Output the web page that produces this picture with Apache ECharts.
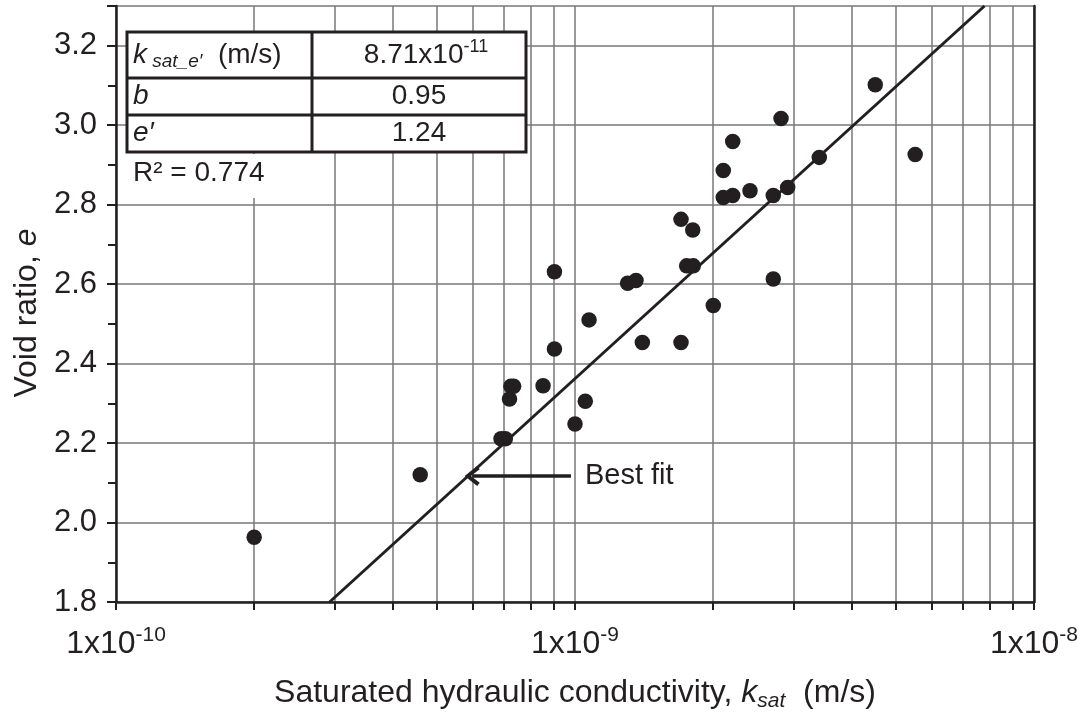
<!DOCTYPE html>
<html>
<head>
<meta charset="utf-8">
<script src="https://cdn.jsdelivr.net/npm/echarts@6/dist/echarts.min.js"></script>
<style>
html,body{margin:0;padding:0;background:#fff;}
#chart{width:1078px;height:713px;}
</style>
</head>
<body>
<div id="chart"></div>
<script>
// ---- data ----
const kSat = [2.0e-10, 4.6e-10, 6.9e-10, 7.05e-10, 7.25e-10, 7.35e-10, 7.2e-10, 8.52e-10,
  9.02e-10, 9.02e-10, 1.0e-9, 1.053e-9, 1.073e-9, 1.302e-9, 1.358e-9, 1.402e-9,
  1.702e-9, 1.751e-9, 1.81e-9, 1.805e-9, 1.702e-9, 2.001e-9, 2.104e-9, 2.104e-9,
  2.206e-9, 2.206e-9, 2.406e-9, 2.704e-9, 2.704e-9, 2.811e-9, 2.906e-9, 3.406e-9,
  4.51e-9, 5.51e-9];
const voidRatio = [1.963, 2.12, 2.211, 2.211, 2.343, 2.343, 2.311, 2.344,
  2.631, 2.437, 2.248, 2.305, 2.510, 2.602, 2.609, 2.453,
  2.763, 2.646, 2.646, 2.736, 2.453, 2.546, 2.886, 2.818,
  2.823, 2.959, 2.835, 2.823, 2.613, 3.017, 2.843, 2.919,
  3.102, 2.926];
// best-fit line end points (k, e)
const fitK = [2.92e-10, 7.8e-9];
const fitE = [1.80, 3.30];
// annotation arrow (k, e): head then tail
const arrowK = [5.97e-10, 9.8e-10];
const arrowE = [2.117, 2.117];
// axis ticks
const xDecades = [1e-10, 1e-9, 1e-8];
const xMinorMultipliers = [1, 2, 3, 4, 5, 6, 7, 8, 9];
const yMin = 1.8, yMax = 3.3, yStep = 0.2;
// table
const tableRows = [
  ['ksat', '8.71x10', '-11'],
  ['b', '0.95', ''],
  ['e', '1.24', '']
];
const r2Text = 'R\u00b2 = 0.774';

// ---- build ----
const L = Math.log10;
const pts = kSat.map((k, i) => [L(k), voidRatio[i]]);
const fitPts = fitK.map((k, i) => [L(k), fitE[i]]);
const xTicks = [];
for (let d = 0; d < xDecades.length - 1; d++) {
  xMinorMultipliers.forEach(m => xTicks.push(L(m * xDecades[d])));
}
xTicks.push(L(xDecades[xDecades.length - 1]));
const xLabelVals = xDecades.map(L);

const INK = '#231f20';
const GRID = '#77777a';
const FONT = '"Liberation Sans", Arial, Helvetica, sans-serif';

const chart = echarts.init(document.getElementById('chart'));

const tblX = 127, tblY = 32, tblW = 399, col = 312;
const rowY = [32, 78, 115, 152];

const graphics = [
  { type: 'rect', shape: { x: tblX, y: tblY, width: tblW, height: rowY[3] - rowY[0] },
    style: { fill: '#fff', stroke: INK, lineWidth: 3 }, z: 100 },
  { type: 'line', shape: { x1: col, y1: rowY[0], x2: col, y2: rowY[3] }, style: { stroke: INK, lineWidth: 3 }, z: 101 },
  { type: 'line', shape: { x1: tblX, y1: rowY[1], x2: tblX + tblW, y2: rowY[1] }, style: { stroke: INK, lineWidth: 3 }, z: 101 },
  { type: 'line', shape: { x1: tblX, y1: rowY[2], x2: tblX + tblW, y2: rowY[2] }, style: { stroke: INK, lineWidth: 3 }, z: 101 },
  // row 1 left
  { type: 'text', x: 133, y: (rowY[0] + rowY[1]) / 2, z: 102,
    style: { text: '{k|k}{sub| sat_e\u2032}{n|  (m/s)}', verticalAlign: 'middle', align: 'left',
      rich: {
        k: { fontSize: 28, fontStyle: 'italic', fontFamily: FONT, fill: INK, lineHeight: 32 },
        sub: { fontSize: 19, fontStyle: 'italic', fontFamily: FONT, fill: INK, verticalAlign: 'bottom', lineHeight: 24 },
        n: { fontSize: 28, fontFamily: FONT, fill: INK, lineHeight: 32 }
      } } },
  { type: 'text', x: 133, y: (rowY[1] + rowY[2]) / 2, z: 102,
    style: { text: tableRows[1][0], font: 'italic 28px ' + FONT, fill: INK, verticalAlign: 'middle', align: 'left' } },
  { type: 'text', x: 133, y: (rowY[2] + rowY[3]) / 2, z: 102,
    style: { text: tableRows[2][0] + '\u2032', font: 'italic 28px ' + FONT, fill: INK, verticalAlign: 'middle', align: 'left' } },
  // right column
  { type: 'text', x: 426, y: (rowY[0] + rowY[1]) / 2, z: 102,
    style: { text: '{n|' + tableRows[0][1] + '}{s|' + tableRows[0][2] + '}', align: 'center', verticalAlign: 'middle',
      rich: {
        n: { fontSize: 28, fontFamily: FONT, fill: INK, lineHeight: 34 },
        s: { fontSize: 18, fontFamily: FONT, fill: INK, verticalAlign: 'top', lineHeight: 22 }
      } } },
  { type: 'text', x: 419, y: (rowY[1] + rowY[2]) / 2, z: 102,
    style: { text: tableRows[1][1], font: '28px ' + FONT, fill: INK, align: 'center', verticalAlign: 'middle' } },
  { type: 'text', x: 419, y: (rowY[2] + rowY[3]) / 2, z: 102,
    style: { text: tableRows[2][1], font: '28px ' + FONT, fill: INK, align: 'center', verticalAlign: 'middle' } },
  // R2 box
  { type: 'rect', shape: { x: tblX, y: rowY[3] + 2, width: 158, height: 44 }, style: { fill: '#fff' }, z: 99 },
  { type: 'text', x: 133, y: 173, z: 102,
    style: { text: r2Text, font: '28px ' + FONT, fill: INK, align: 'left', verticalAlign: 'middle' } }
];

const option = {
  animation: false,
  backgroundColor: '#fff',
  grid: { left: 116, top: 6, right: 44, bottom: 111, containLabel: false, outerBoundsMode: 'none' },
  xAxis: {
    type: 'value', min: L(xDecades[0]), max: L(xDecades[2]),
    name: '{n|Saturated hydraulic conductivity, }{k|k}{sub|sat}{n|  (m/s)}',
    nameLocation: 'middle', nameGap: 72,
    nameTextStyle: {
      rich: {
        n: { fontSize: 32, fontFamily: FONT, color: INK, lineHeight: 38 },
        k: { fontSize: 32, fontFamily: FONT, fontStyle: 'italic', color: INK, lineHeight: 38 },
        sub: { fontSize: 21, fontFamily: FONT, fontStyle: 'italic', color: INK, verticalAlign: 'bottom', lineHeight: 30 }
      }
    },
    axisLine: { show: true, onZero: false, lineStyle: { color: INK, width: 2.5 } },
    axisTick: { show: true, customValues: xTicks, length: 8, lineStyle: { color: INK, width: 2 } },
    axisLabel: {
      customValues: xLabelVals, margin: 23,
      formatter: v => '{b|1x10}{s|' + Math.round(v) + '}',
      rich: {
        b: { fontSize: 32, fontFamily: FONT, color: INK, lineHeight: 38 },
        s: { fontSize: 21, fontFamily: FONT, color: INK, verticalAlign: 'top', lineHeight: 24 }
      }
    },
    splitLine: { show: true, lineStyle: { color: GRID, width: 1.5 } }
  },
  yAxis: [{
    type: 'value', min: yMin, max: yMax, interval: yStep,
    name: 'Void ratio, {e|e}', nameLocation: 'middle', nameRotate: 90, nameGap: 70,
    nameTextStyle: {
      fontSize: 32, fontFamily: FONT, color: INK, padding: [0, 18, 0, 0],
      rich: { e: { fontSize: 32, fontFamily: FONT, fontStyle: 'italic', color: INK } }
    },
    axisLine: { show: true, onZero: false, lineStyle: { color: INK, width: 2.5 } },
    axisTick: { show: true, length: 9, lineStyle: { color: INK, width: 2 } },
    minorTick: { show: true, splitNumber: 2, length: 8, lineStyle: { color: INK, width: 2 } },
    axisLabel: { fontSize: 31, fontFamily: FONT, color: INK, margin: 19, showMaxLabel: false,
      formatter: v => v.toFixed(1) },
    splitLine: { show: true, lineStyle: { color: GRID, width: 1.5 } }
  }, {
    type: 'value', min: yMin, max: yMax, position: 'right',
    axisLine: { show: true, onZero: false, lineStyle: { color: INK, width: 2.5 } },
    axisTick: { show: false }, axisLabel: { show: false }, splitLine: { show: false }
  }],
  series: [
    {
      type: 'line', data: fitPts, showSymbol: false, symbol: 'none',
      lineStyle: { color: INK, width: 3 }, z: 3, silent: true,
      markLine: {
        silent: true, animation: false,
        symbol: ['path://M8,0 L16,10 L13.4,12 L8,5 L2.6,12 L0,10 Z', 'none'],
        symbolSize: [20, 15],
        lineStyle: { color: INK, width: 3.5, type: 'solid' },
        label: { show: true, position: 'end', formatter: 'Best fit', fontSize: 29, fontFamily: FONT, color: INK, distance: 14 },
        data: [[{ coord: [L(arrowK[0]), arrowE[0]], itemStyle: { color: INK } }, { coord: [L(arrowK[1]), arrowE[1]] }]]
      }
    },
    {
      type: 'scatter', data: pts, symbol: 'circle', symbolSize: 15.5,
      itemStyle: { color: INK, opacity: 1 }, z: 4
    }
  ],
  graphic: graphics
};
chart.setOption(option);
</script>
</body>
</html>
